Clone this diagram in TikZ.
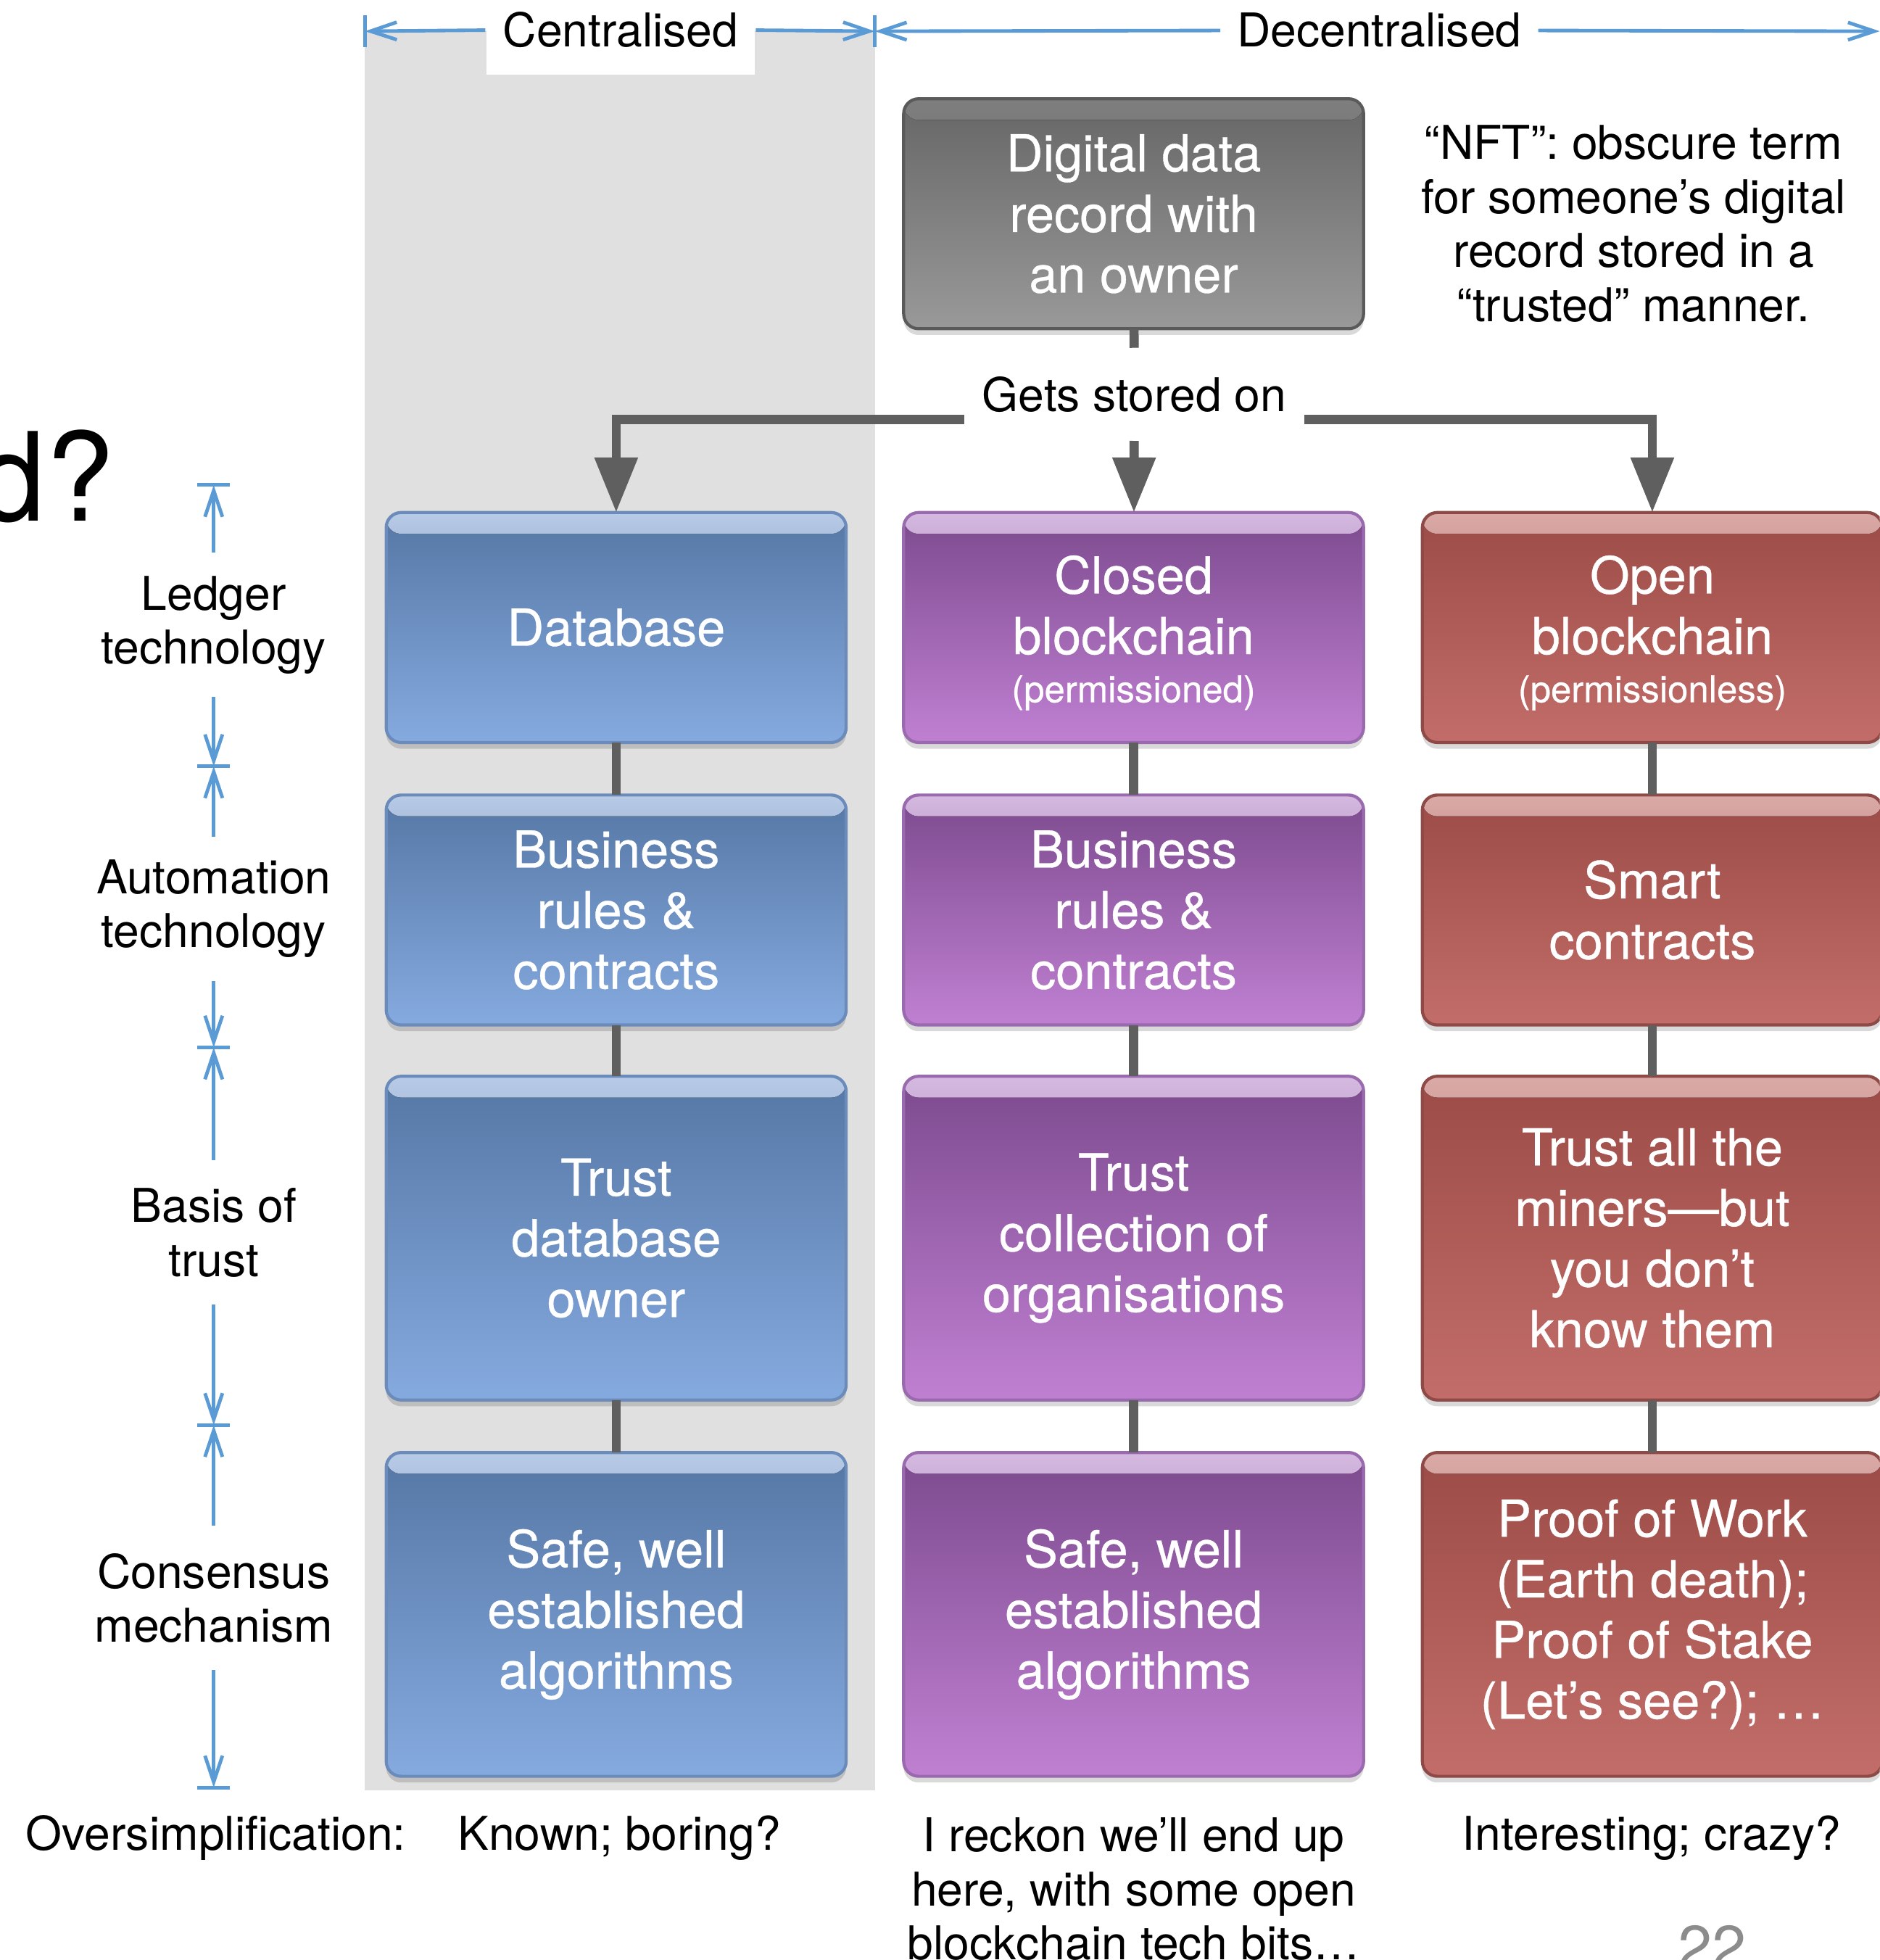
\documentclass[tikz,border=0pt]{standalone}
\usepackage{fontspec}
\setmainfont{TeX Gyre Heros}
\newfontfamily\boxfont[FakeBold=0.5]{TeX Gyre Heros}
\usetikzlibrary{positioning, arrows.meta, shadows}

\begin{document}
\begin{tikzpicture}[
    box/.style={rectangle, rounded corners=0.12cm, minimum width=3.68cm, minimum height=1.84cm,
      inner sep=0pt, outer sep=0pt, align=center, text=white, line width=0.7pt,
      font=\boxfont\fontsize{11.6}{13.8}\selectfont,
      drop shadow={shadow xshift=0pt, shadow yshift=-0.05cm, opacity=0.15, fill=black}},
    tall/.style={minimum height=2.59cm},
    colbox/.style n args={4}{box, draw=#1, top color=#2, bottom color=#3,
      path picture={\fill[top color=#4, bottom color=#2]
        (path picture bounding box.north west) rectangle ([yshift=-0.17cm]path picture bounding box.north east);}},
    dbbox/.style={colbox={dbedge}{dbtop}{dbbot}{dbshine}},
    pbox/.style={colbox={pedge}{ptop}{pbot}{pshine}},
    obox/.style={colbox={oedge}{otop}{obot}{oshine}},
    recbox/.style={colbox={recedge}{rectop}{recbot}{recshine}},
    note/.style={font=\fontsize{10.6}{12.3}\selectfont, align=center, inner sep=0pt},
    side_label/.style={note, minimum height=1.14cm},
    link/.style={draw=linkgrey, line width=2.1pt},
    flow/.style={link, -{Triangle[width=3.3mm, length=4.4mm]}},
    dim/.style={draw=axisblue, line width=0.8pt, -{Straight Barb[length=2.1mm, width=1.4mm]}},
    scale_bar/.style={draw=axisblue, line width=0.8pt}
]

  % --- Color Definitions ---
  \definecolor{band}{HTML}{E0E0E0}
  \definecolor{axisblue}{HTML}{5B9BD5}
  \definecolor{linkgrey}{HTML}{5F5F5F}
  \definecolor{pagegrey}{HTML}{8C8C8C}
  \definecolor{dbedge}{HTML}{6B8CBA}   \definecolor{dbtop}{HTML}{5577A5}
  \definecolor{dbbot}{HTML}{85AADF}    \definecolor{dbshine}{HTML}{B7CAE6}
  \definecolor{pedge}{HTML}{9A6AAE}    \definecolor{ptop}{HTML}{7C4A8E}
  \definecolor{pbot}{HTML}{C080D2}     \definecolor{pshine}{HTML}{D5B9E0}
  \definecolor{oedge}{HTML}{8E4A46}    \definecolor{otop}{HTML}{9C4B46}
  \definecolor{obot}{HTML}{C26D69}     \definecolor{oshine}{HTML}{DAAAA7}
  \definecolor{recedge}{HTML}{5A5A5A}  \definecolor{rectop}{HTML}{666666}
  \definecolor{recbot}{HTML}{999999}   \definecolor{recshine}{HTML}{7E7E7E}

  \useasboundingbox (0,0) rectangle (15.04,-15.68);
  \clip (0,0) rectangle (15.04,-15.68);

  % --- Centralised band ---
  \fill[band] (2.92,-0.25) rectangle (7.00,-14.32);
  \fill[white] (3.89,0.1) rectangle (6.04,-0.60);

  % --- Top scale ---
  \coordinate (cl) at (2.92,-0.25);
  \coordinate (cr) at (7.00,-0.25);
  \coordinate (dr) at (15.04,-0.25);
  \foreach \t in {cl,cr} \draw[scale_bar] ([yshift=1.3mm]\t) -- ([yshift=-1.3mm]\t);
  \node[note, anchor=base, minimum width=2.15cm] (central) at (4.965,-0.377) {Centralised};
  \node[note, anchor=base, minimum width=2.53cm] (decentral) at (11.035,-0.377) {Decentralised};
  \draw[dim] (central.west) -- (cl);
  \draw[dim] (central.east) -- (cr);
  \draw[dim] (decentral.west) -- (cr);
  \draw[dim] (decentral.east) -- (dr);

  % --- Title fragment ---
  \node[font=\fontsize{28}{30}\selectfont, anchor=base east, inner sep=0pt] (title) at (0.92,-4.17) {d?};

  % --- Left scale ---
  \coordinate (t0) at (1.71,-3.88);
  \coordinate (t1) at (1.71,-6.13);
  \coordinate (t2) at (1.71,-8.38);
  \coordinate (t3) at (1.71,-11.40);
  \coordinate (t4) at (1.71,-14.30);
  \foreach \t in {t0,t1,t2,t3,t4} \draw[scale_bar] ([xshift=-1.3mm]\t) -- ([xshift=1.3mm]\t);
  \node[side_label] (ledger) at (1.71,-5.00) {Ledger\\technology};
  \node[side_label] (auto) at (1.71,-7.27) {Automation\\technology};
  \node[side_label] (basis) at (1.71,-9.86) {Basis of\\trust};
  \node[side_label] (consensus) at (1.71,-12.785) {Consensus\\mechanism};
  \draw[dim] (ledger.north) -- (t0);    \draw[dim] (ledger.south) -- (t1);
  \draw[dim] (auto.north) -- (t1);      \draw[dim] (auto.south) -- (t2);
  \draw[dim] (basis.north) -- (t2);     \draw[dim] (basis.south) -- (t3);
  \draw[dim] (consensus.north) -- (t3); \draw[dim] (consensus.south) -- (t4);

  % --- Record and note ---
  \node[recbox] (record) at (9.07,-1.71) {Digital data\\record with\\an owner};
  \node[note] (nft) at (13.07,-1.79) {“NFT”: obscure term\\for someone’s digital\\record stored in a\\“trusted” manner.};
  \node[note, minimum width=2.71cm, minimum height=0.73cm] (stored) at (9.075,-3.155) {Gets stored on};

  % --- Column: database ---
  \node[dbbox] (c1) at (4.93,-5.02) {Database};
  \node[dbbox, below=0.42cm of c1] (c2) {Business\\rules \&\\contracts};
  \node[dbbox, tall, below=0.41cm of c2] (c3) {Trust\\database\\owner};
  \node[dbbox, tall, below=0.42cm of c3] (c4) {Safe, well\\established\\algorithms};

  % --- Column: closed blockchain ---
  \node[pbox, right=0.46cm of c1] (p1) {\rule{0pt}{0.39cm}Closed\\blockchain\\[-0.1cm]{\fontsize{8.4}{10}\selectfont (permissioned)}};
  \node[pbox, below=0.42cm of p1] (p2) {Business\\rules \&\\contracts};
  \node[pbox, tall, below=0.41cm of p2] (p3) {Trust\\collection of\\organisations};
  \node[pbox, tall, below=0.42cm of p3] (p4) {Safe, well\\established\\algorithms};

  % --- Column: open blockchain ---
  \node[obox, right=0.47cm of p1] (o1) {\rule{0pt}{0.39cm}Open\\blockchain\\[-0.1cm]{\fontsize{8.4}{10}\selectfont (permissionless)}};
  \node[obox, below=0.42cm of o1] (o2) {Smart\\contracts};
  \node[obox, tall, below=0.41cm of o2] (o3) {Trust all the\\miners—but\\you don’t\\know them};
  \node[obox, tall, below=0.42cm of o3] (o4) {Proof of Work\\(Earth death);\\Proof of Stake\\(Let’s see?); …};

  % --- Connectors ---
  \draw[link] (record) -- (stored);
  \draw[flow] (stored) -- (p1);
  \draw[flow] ([yshift=-0.2cm]stored.west) -| (c1.north);
  \draw[flow] ([yshift=-0.2cm]stored.east) -| (o1.north);
  \foreach \col in {c,p,o} {
    \foreach \r/\s in {1/2,2/3,3/4} \draw[link] (\col\r) -- (\col\s);
  }

  % --- Bottom row ---
  \node[note, anchor=base west] (over) at (0.20,-14.80) {Oversimplification:};
  \node[note, anchor=base] (known) at (4.955,-14.80) {Known; boring?};
  \node[note, anchor=north] (reckon) at (9.07,-14.535) {I reckon we’ll end up\\here, with some open\\blockchain tech bits…};
  \node[note, anchor=base] (crazy) at (13.215,-14.80) {Interesting; crazy?};
  \node[font=\fontsize{14}{16}\selectfont, text=pagegrey, anchor=base, inner sep=0pt] (page) at (13.70,-15.75) {22};

\end{tikzpicture}
\end{document}
